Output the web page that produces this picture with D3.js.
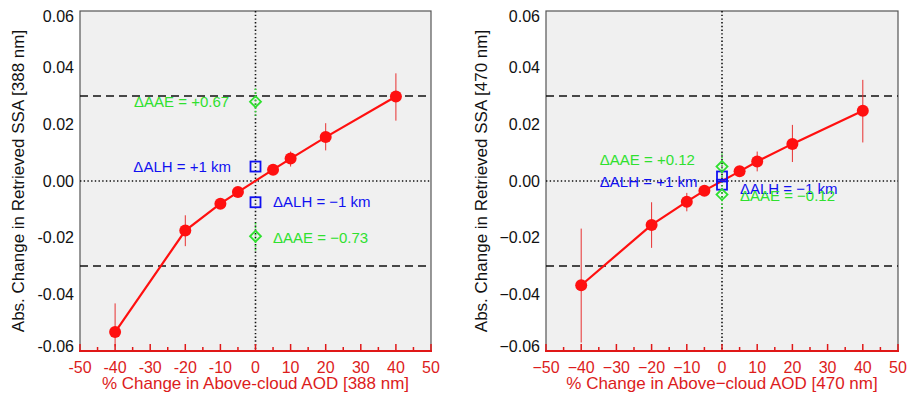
<!DOCTYPE html>
<html>
<head>
<meta charset="utf-8">
<script src="https://cdn.jsdelivr.net/npm/d3@7"></script>
<style>
  body { margin: 0; background: #fff; }
  svg text { font-family: "Liberation Sans", Arial, Helvetica, sans-serif; }
</style>
</head>
<body>
<svg id="chart" width="909" height="400"></svg>
<script>
// % change in above-cloud AOD
const aodChange = [-40, -20, -10, -5, 5, 10, 20, 40];

// 388 nm retrieval: SSA change and error bar bounds
const ssa388 = [-0.0533, -0.0175, -0.0080, -0.0039, 0.0040, 0.0079, 0.0155, 0.0298];
const ssa388Lo = [-0.0584, -0.0230, -0.0095, -0.0047, 0.0032, 0.0051, 0.0108, 0.0213];
const ssa388Hi = [-0.0432, -0.0121, -0.0063, -0.0031, 0.0048, 0.0104, 0.0204, 0.0380];

// 470 nm retrieval
const ssa470 = [-0.0368, -0.0155, -0.0073, -0.0034, 0.0034, 0.0069, 0.0131, 0.0248];
const ssa470Lo = [-0.0570, -0.0236, -0.0107, -0.0045, 0.0025, 0.0034, 0.0067, 0.0136];
const ssa470Hi = [-0.0168, -0.0075, -0.0042, -0.0023, 0.0043, 0.0104, 0.0198, 0.0357];

// sensitivity to aerosol layer height (+1 km, -1 km) and AAE
const alh388 = [0.0051, -0.0075];
const aae388 = [0.0280, -0.0195];
const alh470 = [0.0016, -0.0013];
const aae470 = [0.0051, -0.0048];
const alhLabels = ['\u0394ALH = +1 km', '\u0394ALH = \u22121 km'];
const aae388Labels = ['\u0394AAE = +0.67', '\u0394AAE = \u22120.73'];
const aae470Labels = ['\u0394AAE = +0.12', '\u0394AAE = \u22120.12'];

// axis ticks
const xTicks = [-50, -40, -30, -20, -10, 0, 10, 20, 30, 40, 50];
const yTicks = [-0.06, -0.04, -0.02, 0.00, 0.02, 0.04, 0.06];
const thresholds = [0.03, -0.03];

const RED = '#ff1010';
const BLUE = '#1010f0';
const GREEN = '#2fe02f';

const svg = d3.select('#chart');

function drawPanel(p) {
  const x = d3.scaleLinear().domain([-50, 50]).range([p.left, p.right]);
  const y = d3.scaleLinear().domain([-0.06, 0.06]).range([p.bottom, p.top]);
  const g = svg.append('g');

  // plot background and frame
  g.append('rect')
    .attr('x', p.left).attr('y', p.top)
    .attr('width', p.right - p.left).attr('height', p.bottom - p.top)
    .attr('fill', '#f0f0f0').attr('stroke', '#555').attr('stroke-width', 1.2);

  // dashed thresholds
  g.selectAll('.thr').data(thresholds).enter().append('line')
    .attr('x1', p.left).attr('x2', p.right)
    .attr('y1', d => y(d)).attr('y2', d => y(d))
    .attr('stroke', '#111').attr('stroke-width', 1.6)
    .attr('stroke-dasharray', '8,5');

  // zero lines (dotted)
  g.append('line')
    .attr('x1', p.left).attr('x2', p.right)
    .attr('y1', y(0)).attr('y2', y(0))
    .attr('stroke', '#111').attr('stroke-width', 1.6).attr('stroke-dasharray', '1.4,2.3');
  g.append('line')
    .attr('x1', x(0)).attr('x2', x(0))
    .attr('y1', p.top).attr('y2', p.bottom)
    .attr('stroke', '#111').attr('stroke-width', 1.6).attr('stroke-dasharray', '1.4,2.3');

  // AAE error bars (green dotted) and ALH (blue dotted)
  g.selectAll('.aaeErr').data(p.aae).enter().append('line')
    .attr('x1', x(0)).attr('x2', x(0))
    .attr('y1', d => y(d - 0.005)).attr('y2', d => y(d + 0.005))
    .attr('stroke', GREEN).attr('stroke-width', 1.6).attr('stroke-dasharray', '1.4,2.3');

  // error bars
  g.selectAll('.err').data(aodChange).enter().append('line')
    .attr('x1', d => x(d)).attr('x2', d => x(d))
    .attr('y1', (d, i) => y(p.lo[i])).attr('y2', (d, i) => y(p.hi[i]))
    .attr('stroke', '#e83030').attr('stroke-width', 1);

  // line + markers
  const line = d3.line().x(d => x(d[0])).y(d => y(d[1]));
  g.append('path')
    .datum(aodChange.map((d, i) => [d, p.vals[i]]))
    .attr('d', line)
    .attr('fill', 'none').attr('stroke', RED).attr('stroke-width', 2.2);
  g.selectAll('.pt').data(aodChange).enter().append('circle')
    .attr('cx', d => x(d)).attr('cy', (d, i) => y(p.vals[i]))
    .attr('r', 6).attr('fill', RED);

  // ALH squares
  g.selectAll('.sq').data(p.alh).enter().append('rect')
    .attr('x', x(0) - 5).attr('y', d => y(d) - 5)
    .attr('width', 10).attr('height', 10)
    .attr('fill', 'none').attr('stroke', BLUE).attr('stroke-width', 1.8);

  // AAE diamonds
  g.selectAll('.dm').data(p.aae).enter().append('path')
    .attr('d', d => `M${x(0)},${y(d) - 5.5}L${x(0) + 5.5},${y(d)}L${x(0)},${y(d) + 5.5}L${x(0) - 5.5},${y(d)}Z`)
    .attr('fill', 'none').attr('stroke', GREEN).attr('stroke-width', 1.8);

  // annotations (positioned in data units)
  p.notes.forEach(n => {
    g.append('text')
      .attr('x', x(n.x)).attr('y', y(n.y))
      .attr('dy', '0.36em')
      .attr('text-anchor', n.anchor)
      .attr('font-size', 15)
      .attr('fill', n.color)
      .text(n.text);
  });

  // x axis (red)
  const xAxis = g.append('g');
  xAxis.append('line')
    .attr('x1', p.left - 1).attr('x2', p.right + 1)
    .attr('y1', p.bottom).attr('y2', p.bottom)
    .attr('stroke', '#e01818').attr('stroke-width', 2);
  const minor = d3.range(-50, 51, 5);
  xAxis.selectAll('.tk').data(minor).enter().append('line')
    .attr('x1', d => x(d)).attr('x2', d => x(d))
    .attr('y1', p.bottom).attr('y2', d => p.bottom - (d % 10 === 0 ? 7 : 4))
    .attr('stroke', '#e01818').attr('stroke-width', 1.5);
  xAxis.selectAll('.tl').data(xTicks).enter().append('text')
    .attr('x', d => x(d)).attr('y', p.bottom + 22)
    .attr('text-anchor', 'middle')
    .attr('font-size', 16)
    .attr('fill', '#dc1c1c')
    .text(d => (d < 0 ? p.minus : '') + Math.abs(d));
  xAxis.append('text')
    .attr('x', (p.left + p.right) / 2).attr('y', p.bottom + 38)
    .attr('text-anchor', 'middle')
    .attr('font-size', 17)
    .attr('fill', '#dc1c1c')
    .text(p.xTitle);

  // y tick labels (edge labels kept inside the frame)
  g.selectAll('.yl').data(yTicks).enter().append('text')
    .attr('x', p.left - 6)
    .attr('y', d => y(d) + (d === 0.06 ? 5 : d === -0.06 ? -5 : 0))
    .attr('dy', '0.36em')
    .attr('text-anchor', 'end')
    .attr('font-size', 16)
    .attr('fill', '#111')
    .text(d => (d < 0 ? p.minus : '') + Math.abs(d).toFixed(2));

  g.append('text')
    .attr('transform', `translate(${p.yTitleX},${(p.top + p.bottom) / 2}) rotate(-90)`)
    .attr('text-anchor', 'middle')
    .attr('dy', '0.36em')
    .attr('font-size', 17)
    .attr('fill', '#111')
    .text(p.yTitle);
}

drawPanel({
  left: 80, right: 431, top: 11, bottom: 351,
  vals: ssa388, lo: ssa388Lo, hi: ssa388Hi,
  alh: alh388, aae: aae388,
  minus: '-',
  xTitle: '% Change in Above-cloud AOD [388 nm]',
  yTitle: 'Abs. Change in Retrieved SSA [388 nm]',
  yTitleX: 18,
  notes: [
    { x: -7.5, y: aae388[0], text: aae388Labels[0], color: GREEN, anchor: 'end' },
    { x: -7, y: alh388[0], text: alhLabels[0], color: BLUE, anchor: 'end' },
    { x: 5, y: alh388[1] + 0.0003, text: alhLabels[1], color: BLUE, anchor: 'start' },
    { x: 5, y: aae388[1] - 0.0003, text: aae388Labels[1], color: GREEN, anchor: 'start' }
  ]
});

drawPanel({
  left: 546, right: 898, top: 11, bottom: 351,
  vals: ssa470, lo: ssa470Lo, hi: ssa470Hi,
  alh: alh470, aae: aae470,
  minus: '\u2212',
  xTitle: '% Change in Above\u2212cloud AOD [470 nm]',
  yTitle: 'Abs. Change in Retrieved SSA [470 nm]',
  yTitleX: 481,
  notes: [
    { x: -34.7, y: 0.0075, text: aae470Labels[0], color: GREEN, anchor: 'start' },
    { x: -34.7, y: -0.0001, text: alhLabels[0], color: BLUE, anchor: 'start' },
    { x: 5.1, y: -0.0027, text: alhLabels[1], color: BLUE, anchor: 'start' },
    { x: 5.1, y: -0.0051, text: aae470Labels[1], color: GREEN, anchor: 'start' }
  ]
});
</script>
</body>
</html>
